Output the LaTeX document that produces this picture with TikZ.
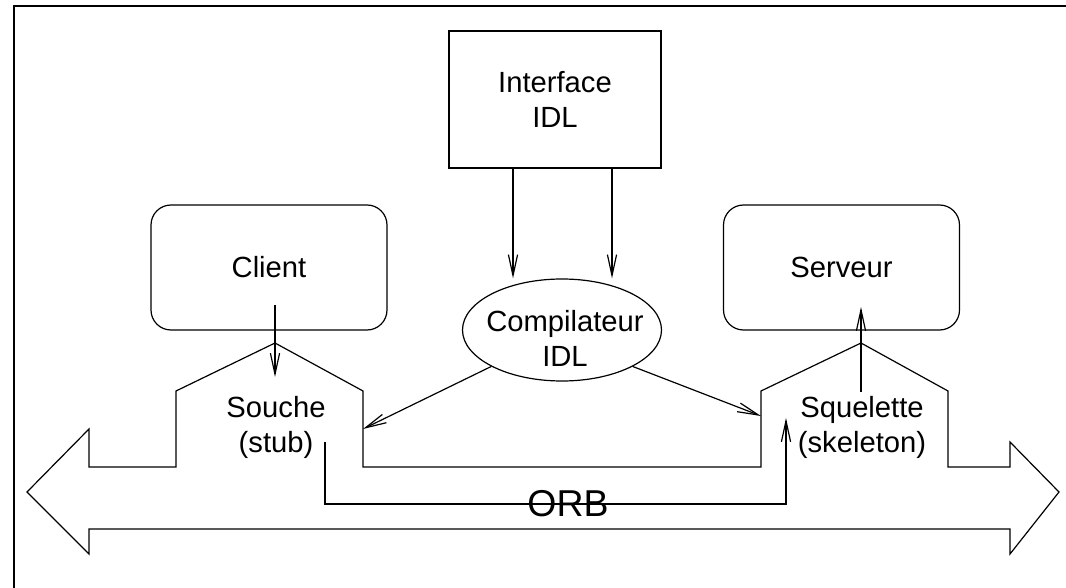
\documentclass[tikz,border=0pt]{standalone}
\usepackage{fontspec}
\setmainfont{Liberation Sans}
\usetikzlibrary{arrows.meta, shapes.geometric}
\tikzset{
    >={Straight Barb[length=10.5pt, width=4.6pt]}, % thin open arrow heads
    every node/.style={font=\fontsize{14.6}{17.5}\selectfont, align=center}, % same size for every label
    appli/.style={draw, rounded corners=10pt, minimum width=118pt, minimum height=62.5pt}, % client and server
    source/.style={draw, minimum width=106pt, minimum height=68.5pt}, % the IDL file
    compiler/.style={draw, ellipse, minimum width=99.5pt, minimum height=51pt},
}
\begin{document}
\begin{tikzpicture}[x=0.5pt, y=-0.5pt, line width=0.6pt]
    \useasboundingbox (0,0) rectangle (1066,588);
    % frame, open to the right and at the bottom
    \draw (14,588) -- (14,6) -- (1066,6);

    \node[source] (iface) at (555,99.5) {Interface\\IDL};
    \node[appli] (client) at (269,267.5) {Client};
    \node[appli] (serveur) at (841.5,267.5) {Serveur};
    \node[compiler] (comp) at (562,330) {};
    \node (comptxt) at (565,338) {Compilateur\\IDL};

    % the ORB bus, with the stub and the skeleton standing on it
    \coordinate (stubtop) at (275,343);
    \coordinate (skeltop) at (861,343);
    \draw (89,467) -- (176,467) -- (176,391) -- (stubtop) -- (363,391) -- (363,467)
          -- (761,467) -- (761,391) -- (skeltop) -- (948,391) -- (948,467)
          -- (1010,467) -- (1010,442) -- (1059,492) -- (1010,554) -- (1010,529)
          -- (89,529) -- (89,554) -- (27,492) -- (89,429) -- cycle;

    \node (stub) at (276,427) {Souche\\(stub)};
    \node (skel) at (862,427) {Squelette\\(skeleton)};
    \node[font=\fontsize{18.7}{22}\selectfont] (orb) at (568,504) {ORB};

    \coordinate (stubin) at (363,429);
    \coordinate (skelin) at (761,416);
    \coordinate (callout) at (325,442);
    \coordinate (callin) at (786,418);

    \draw[->] ([xshift=-21pt]iface.south) -- ([xshift=-21pt]iface.south |- comp.north);
    \draw[->] ([xshift=28.5pt]iface.south) -- ([xshift=28.5pt]iface.south |- comp.north);
    \draw[->] (comp.south west) -- (stubin);
    \draw[->] (comp.south east) -- (skelin);
    \draw[->] ([yshift=19pt]stubtop) -- ([yshift=-17pt]stubtop);
    \draw[->] ([yshift=-24.5pt]skeltop) -- ([yshift=18pt]skeltop);
    \draw[->] (callout) |- (orb.center) -| (callin);
\end{tikzpicture}
\end{document}
